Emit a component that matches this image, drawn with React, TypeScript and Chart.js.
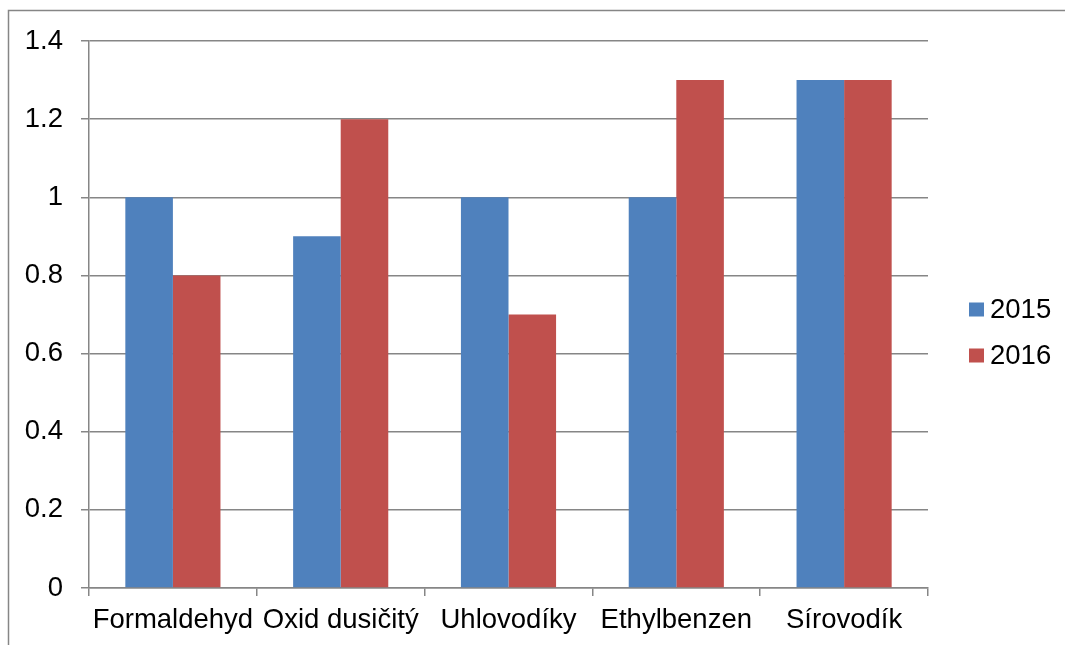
import React, { useEffect, useRef } from "react";
import { Chart, registerables } from "chart.js";

Chart.register(...registerables);

// Pollutant categories and yearly values
const categories = ["Formaldehyd", "Oxid dusičitý", "Uhlovodíky", "Ethylbenzen", "Sírovodík"];
const series2015 = [1.0, 0.9, 1.0, 1.0, 1.3];
const series2016 = [0.8, 1.2, 0.7, 1.3, 1.3];
const seriesLabels = ["2015", "2016"];
const seriesColors = ["#4F81BD", "#C0504D"];
const yTicks = [0, 0.2, 0.4, 0.6, 0.8, 1, 1.2, 1.4];

const FONT_FAMILY = '"Liberation Sans", Arial, sans-serif';
const FONT_SIZE = 27.5;
const LINE_GRAY = "#868686";

// Outer frame around the whole chart object
const framePlugin = {
  id: "frame",
  beforeDraw(chart: Chart) {
    const ctx = chart.ctx;
    ctx.save();
    ctx.fillStyle = "#ffffff";
    ctx.fillRect(0, 0, chart.width, chart.height);
    ctx.strokeStyle = LINE_GRAY;
    ctx.lineWidth = 1.5;
    ctx.strokeRect(8.5, 10.5, chart.width + 40, chart.height + 40);
    ctx.restore();
  },
};

// Legend drawn to the right of the plot area
const sideLegendPlugin = {
  id: "sideLegend",
  afterDraw(chart: Chart, _args: unknown, opts: any) {
    const ctx = chart.ctx;
    ctx.save();
    ctx.font = `${FONT_SIZE}px ${FONT_FAMILY}`;
    ctx.textBaseline = "middle";
    ctx.textAlign = "left";
    chart.data.datasets.forEach((ds, i) => {
      const cy = opts.top + i * opts.spacing;
      ctx.fillStyle = ds.backgroundColor as string;
      ctx.fillRect(opts.left, cy - 7, 15, 14);
      ctx.fillStyle = "#000000";
      ctx.fillText(String(ds.label), opts.left + 21, cy + 1);
    });
    ctx.restore();
  },
};

export default function App() {
  const canvasRef = useRef<HTMLCanvasElement | null>(null);

  useEffect(() => {
    if (!canvasRef.current) return;
    const chart = new Chart(canvasRef.current, {
      type: "bar",
      data: {
        labels: categories,
        datasets: [
          { label: seriesLabels[0], data: series2015, backgroundColor: seriesColors[0], borderWidth: 0 },
          { label: seriesLabels[1], data: series2016, backgroundColor: seriesColors[1], borderWidth: 0 },
        ],
      },
      options: {
        responsive: false,
        animation: false,
        devicePixelRatio: 1,
        layout: { padding: { left: 0, top: 41, right: 137, bottom: 0 } },
        datasets: {
          bar: { barPercentage: 1, categoryPercentage: 0.567 },
        },
        plugins: {
          legend: { display: false },
          tooltip: { enabled: false },
          sideLegend: { left: 969, top: 309.5, spacing: 46 },
        } as any,
        scales: {
          x: {
            offset: true,
            grid: {
              offset: true,
              drawOnChartArea: false,
              drawTicks: true,
              tickLength: 8,
              color: LINE_GRAY,
              lineWidth: 1.5,
            },
            border: { color: LINE_GRAY, width: 1.5 },
            ticks: {
              color: "#000000",
              font: { family: FONT_FAMILY, size: FONT_SIZE },
              padding: 8,
              maxRotation: 0,
              autoSkip: false,
            },
            afterFit(scale: any) {
              scale.height = 57;
            },
          },
          y: {
            min: 0,
            max: 1.4,
            afterBuildTicks(scale: any) {
              scale.ticks = yTicks.map((v) => ({ value: v }));
            },
            grid: {
              drawTicks: true,
              tickLength: 8,
              color: LINE_GRAY,
              lineWidth: 1.5,
            },
            border: { color: LINE_GRAY, width: 1.5 },
            ticks: {
              color: "#000000",
              font: { family: FONT_FAMILY, size: FONT_SIZE },
              padding: 18,
              callback: (v: any) => String(Math.round(Number(v) * 10) / 10),
            },
            afterFit(scale: any) {
              scale.width = 89;
            },
          },
        },
      },
      plugins: [framePlugin, sideLegendPlugin],
    });
    return () => chart.destroy();
  }, []);

  return (
    <div style={{ position: "absolute", left: 0, top: 0, width: 1065, height: 645, background: "#fff" }}>
      <canvas ref={canvasRef} width={1065} height={645} style={{ display: "block" }} />
    </div>
  );
}
